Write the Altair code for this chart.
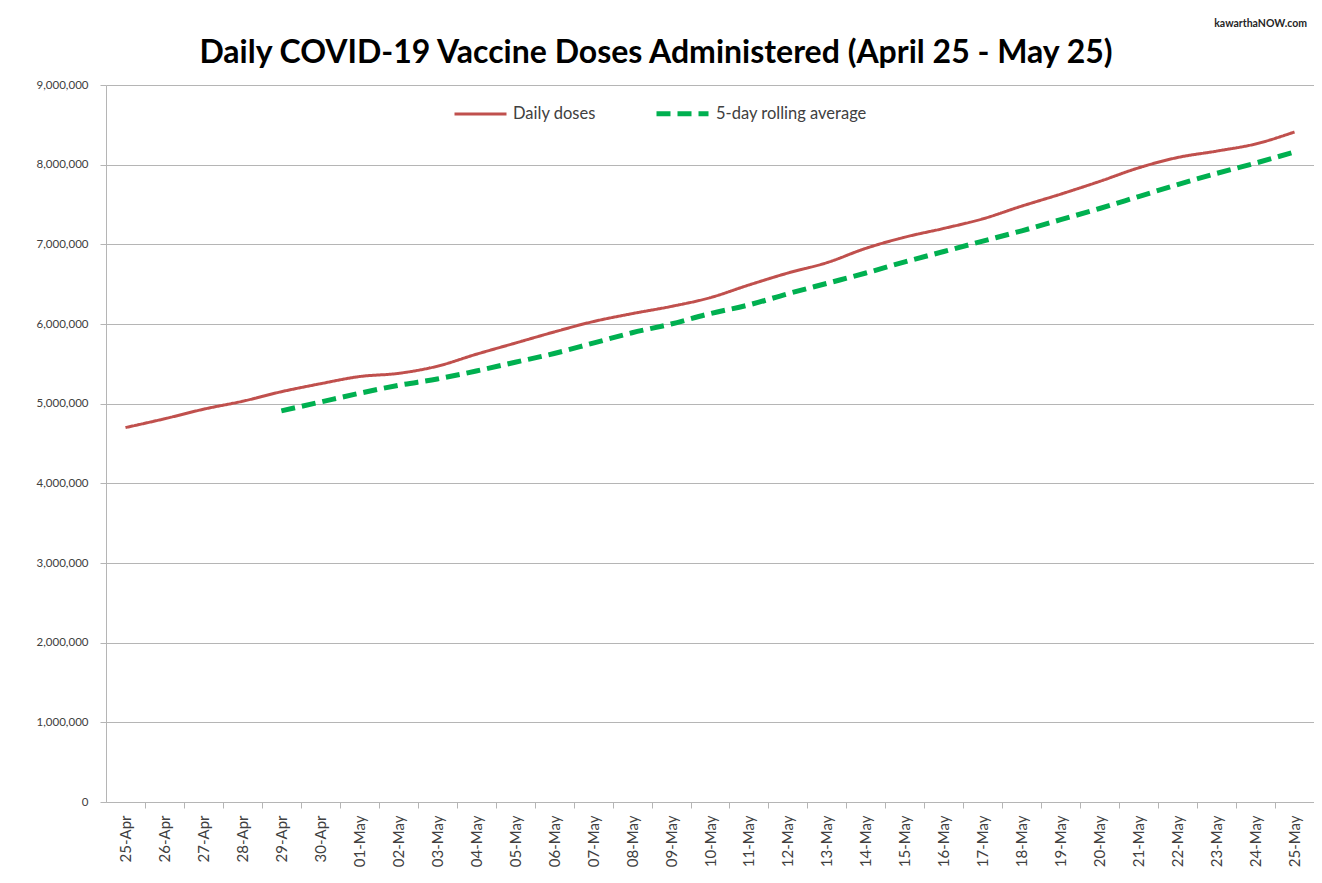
import altair as alt
import pandas as pd

dates = ["25-Apr", "26-Apr", "27-Apr", "28-Apr", "29-Apr", "30-Apr",
         "01-May", "02-May", "03-May", "04-May", "05-May", "06-May", "07-May",
         "08-May", "09-May", "10-May", "11-May", "12-May", "13-May", "14-May",
         "15-May", "16-May", "17-May", "18-May", "19-May", "20-May", "21-May",
         "22-May", "23-May", "24-May", "25-May"]

daily_doses = [4700000, 4810000, 4930000, 5030000, 5150000, 5250000,
               5340000, 5380000, 5470000, 5620000, 5760000, 5900000, 6030000,
               6130000, 6220000, 6330000, 6490000, 6640000, 6770000, 6950000,
               7090000, 7200000, 7320000, 7480000, 7630000, 7790000, 7960000,
               8090000, 8170000, 8260000, 8410000]

rolling_avg = [None, None, None, None, 4910000, 5020000,
               5130000, 5230000, 5310000, 5410000, 5520000, 5630000, 5760000,
               5890000, 6000000, 6130000, 6240000, 6380000, 6510000, 6640000,
               6780000, 6910000, 7040000, 7170000, 7310000, 7450000, 7600000,
               7750000, 7890000, 8020000, 8160000]

series_names = ["Daily doses", "5-day rolling average"]
series_colors = ["#c0504d", "#00b050"]
y_ticks = [0, 1000000, 2000000, 3000000, 4000000, 5000000,
           6000000, 7000000, 8000000, 9000000]
title_text = "Daily COVID-19 Vaccine Doses Administered (April 25 - May 25)"
watermark_text = "kawarthaNOW.com"

rows = []
for d, v in zip(dates, daily_doses):
    rows.append({"date": d, "value": v, "series": series_names[0]})
for d, v in zip(dates, rolling_avg):
    if v is not None:
        rows.append({"date": d, "value": v, "series": series_names[1]})
df = pd.DataFrame(rows)

W = 1208
H = 717
step = W / len(dates)

font = "Lato"
text_color = "#404040"
grid_color = "#b5b5b5"

lines = alt.Chart(df).mark_line(interpolate="monotone").encode(
    x=alt.X("date:O", sort=dates, title=None,
            scale=alt.Scale(type="point", padding=0.5),
            axis=alt.Axis(labelAngle=-90, labelFontSize=15, labelFont=font,
                          labelColor=text_color, tickOffset=step / 2,
                          labelOffset=-step / 2,
                          tickSize=6, tickColor=grid_color, domainColor=grid_color,
                          labelPadding=7, grid=False, labelBaseline="middle",
                          labelAlign="right")),
    y=alt.Y("value:Q", title=None,
            scale=alt.Scale(domain=[0, 9000000], nice=False),
            axis=alt.Axis(values=y_ticks, format=",d", labelFontSize=11.5,
                          labelFont=font, labelColor=text_color,
                          tickSize=6, tickColor=grid_color, domainColor=grid_color,
                          gridColor=grid_color, labelPadding=12)),
    color=alt.Color("series:N", title=None,
                    scale=alt.Scale(domain=series_names, range=series_colors),
                    legend=alt.Legend(orient="none", legendX=347, legendY=0,
                                      direction="horizontal", symbolType="stroke",
                                      symbolSize=2704, labelFont=font, labelFontSize=16.5,
                                      labelColor=text_color, columnPadding=50,
                                      labelOffset=5, padding=0)),
    strokeDash=alt.StrokeDash("series:N", title=None,
                              scale=alt.Scale(domain=series_names, range=[[1, 0], [14, 7]])),
    strokeWidth=alt.StrokeWidth("series:N", title=None,
                                scale=alt.Scale(domain=series_names, range=[3, 5])),
)

wm = alt.Chart(pd.DataFrame({"t": [watermark_text]})).mark_text(
    align="right", baseline="middle", font=font, fontSize=10.5,
    fontWeight="bold", color="#262626"
).encode(text="t:N", x=alt.value(1201), y=alt.value(-61))

ttl = alt.Chart(pd.DataFrame({"t": [title_text]})).mark_text(
    align="center", baseline="middle", font=font, fontSize=32,
    fontWeight="bold", color="#000000"
).encode(text="t:N", x=alt.value(W / 2 - 54), y=alt.value(-32))

chart = alt.layer(lines, wm, ttl).properties(
    width=W, height=H,
    autosize=alt.AutoSizeParams(type="none"),
    padding={"left": 98, "top": 77, "right": 0, "bottom": 70},
).configure_view(stroke=None)

chart.save("out.html", embed_options={"renderer": "svg", "actions": False})
